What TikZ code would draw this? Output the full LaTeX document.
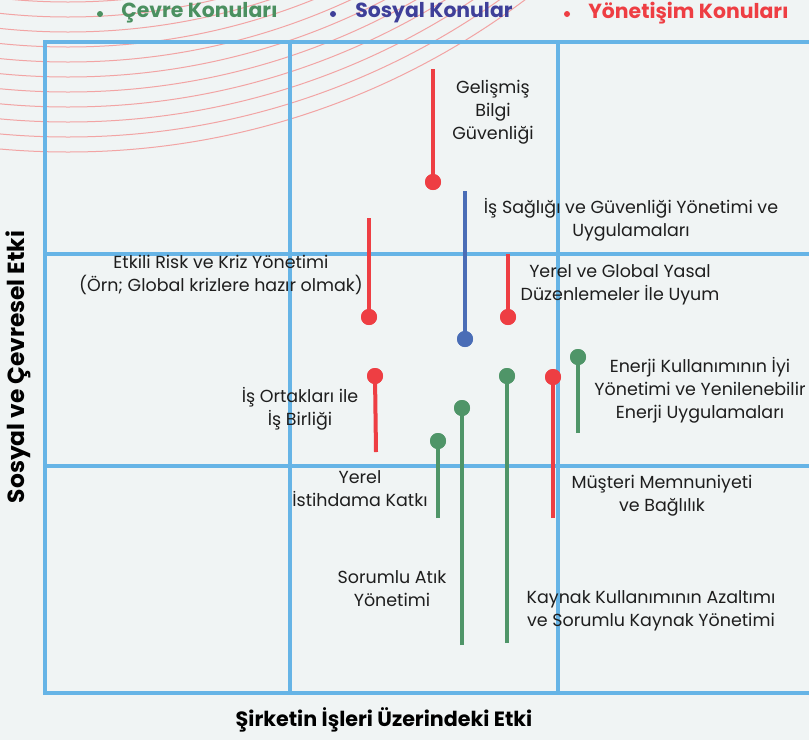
\documentclass[tikz,border=0pt]{standalone}
\usepackage{fontspec}
\setmainfont{Poppins}
\definecolor{bgc}{HTML}{F0F4F4}
\definecolor{gridblue}{HTML}{66B4E6}
\definecolor{arcred}{HTML}{F2A4A4}
\definecolor{topred}{HTML}{EE3E43}
\definecolor{topgreen}{HTML}{4F9568}
\definecolor{topblue}{HTML}{4A6DB6}
\definecolor{legblue}{HTML}{3E3F99}
\definecolor{leggreen}{HTML}{4B9060}
\definecolor{txt}{HTML}{1E1E1E}
\begin{document}
\begin{tikzpicture}[x=0.75pt,y=-0.75pt,
  gridline/.style={draw=gridblue, line width=2.6pt},
  stemline/.style={line width=3pt, line cap=butt},
  dot/.style={circle, fill=#1, draw=none, inner sep=0pt, minimum size=12pt},
  bul/.style={circle, fill=#1, inner sep=0pt, minimum size=4.5pt},
  lbl/.style={font=\fontsize{13.1}{17.4}\selectfont, align=center, text=txt, inner sep=0pt},
  leg/.style={font=\fontsize{15.3}{17}\selectfont\bfseries, anchor=west, inner sep=0pt, text=#1},
  axis/.style={font=\fontsize{15.5}{18}\selectfont\bfseries, text=black, inner sep=0pt}]
\useasboundingbox (0,0) rectangle (809,740);
\fill[bgc] (0,0) rectangle (809,740);
% arcs
\begin{scope}
\clip (0,0) rectangle (809,740);
\foreach \k in {0,...,12}{
  \draw[arcred, line width=0.75pt] (68,-610) circle[radius={762-15*\k}];
}
\end{scope}
% legend
\node[bul=leggreen] (b1) at (100,14) {};
\node[leg=leggreen] (l1) at (121,13) {Çevre Konuları};
\node[bul=legblue] (b2) at (333,14) {};
\node[leg=legblue] (l2) at (355,13) {Sosyal Konular};
\node[bul=topred] (b3) at (567,14) {};
\node[leg=topred] (l3) at (588,13) {Yönetişim Konuları};
% grid
\draw[gridline] (812,42) -- (45,42) -- (45,693) -- (812,693);
\draw[gridline] (290,42) -- (290,693);
\draw[gridline] (558,42) -- (558,693);
\draw[gridline] (45,254) -- (812,254);
\draw[gridline] (45,466) -- (812,466);
% axis labels
\node[axis] (xl) at (384,720) {Şirketin İşleri Üzerindeki Etki};
\node[axis, rotate=90, font=\fontsize{17.5}{20}\selectfont\bfseries] (yl) at (18,367) {Sosyal ve Çevresel Etki};
% topics
\coordinate (t1) at (433,69);   \node[dot=topred] (d1) at (433,182) {};
\coordinate (t2) at (465,191);  \node[dot=topblue] (d2) at (465,339) {};
\coordinate (t3) at (369,218);  \node[dot=topred] (d3) at (369,317) {};
\coordinate (t4) at (508,254);  \node[dot=topred] (d4) at (508,317) {};
\coordinate (t5) at (578,433);  \node[dot=topgreen] (d5) at (578,357) {};
\coordinate (t6) at (553,518);  \node[dot=topred] (d6) at (553,377) {};
\coordinate (t7) at (507,643);  \node[dot=topgreen] (d7) at (507,376) {};
\coordinate (t8) at (462,645);  \node[dot=topgreen] (d8) at (462,408) {};
\coordinate (t9) at (438,518);  \node[dot=topgreen] (d9) at (438,441) {};
\coordinate (t10) at (376,452); \node[dot=topred] (d10) at (375,376) {};
\draw[stemline, topred] (t1) -- (d1.center);
\draw[stemline, topblue] (t2) -- (d2.center);
\draw[stemline, topred] (t3) -- (d3.center);
\draw[stemline, topred] (t4) -- (d4.center);
\draw[stemline, topgreen] (t5) -- (d5.center);
\draw[stemline, topred] (t6) -- (d6.center);
\draw[stemline, topgreen] (t7) -- (d7.center);
\draw[stemline, topgreen] (t8) -- (d8.center);
\draw[stemline, topgreen] (t9) -- (d9.center);
\draw[stemline, topred] (t10) -- (d10.center);
\foreach \n/\c in {d1/topred,d2/topblue,d3/topred,d4/topred,d5/topgreen,d6/topred,d7/topgreen,d8/topgreen,d9/topgreen,d10/topred}{
  \fill[\c] (\n.center) circle[radius=8];
}
% labels
\node[lbl] (L1) at (493,112) {Gelişmiş\\Bilgi\\Güvenliği};
\node[lbl] (L2) at (631,220) {İş Sağlığı ve Güvenliği Yönetimi ve\\Uygulamaları};
\node[lbl] (L3) at (221,275) {Etkili Risk ve Kriz Yönetimi\\(Örn; Global krizlere hazır olmak)};
\node[lbl] (L4) at (620,285) {Yerel ve Global Yasal\\Düzenlemeler İle Uyum};
\node[lbl] (L5) at (700,390) {Enerji Kullanımının İyi\\Yönetimi ve Yenilenebilir\\Enerji Uygulamaları};
\node[lbl] (L6) at (662,496) {Müşteri Memnuniyeti\\ve Bağlılık};
\node[lbl] (L7) at (651,611) {Kaynak Kullanımının Azaltımı\\ve Sorumlu Kaynak Yönetimi};
\node[lbl] (L8) at (392,589) {Sorumlu Atık\\Yönetimi};
\node[lbl] (L9) at (360,489) {Yerel\\İstihdama Katkı};
\node[lbl] (L10) at (300,409) {İş Ortakları ile\\İş Birliği};
\end{tikzpicture}
\end{document}
